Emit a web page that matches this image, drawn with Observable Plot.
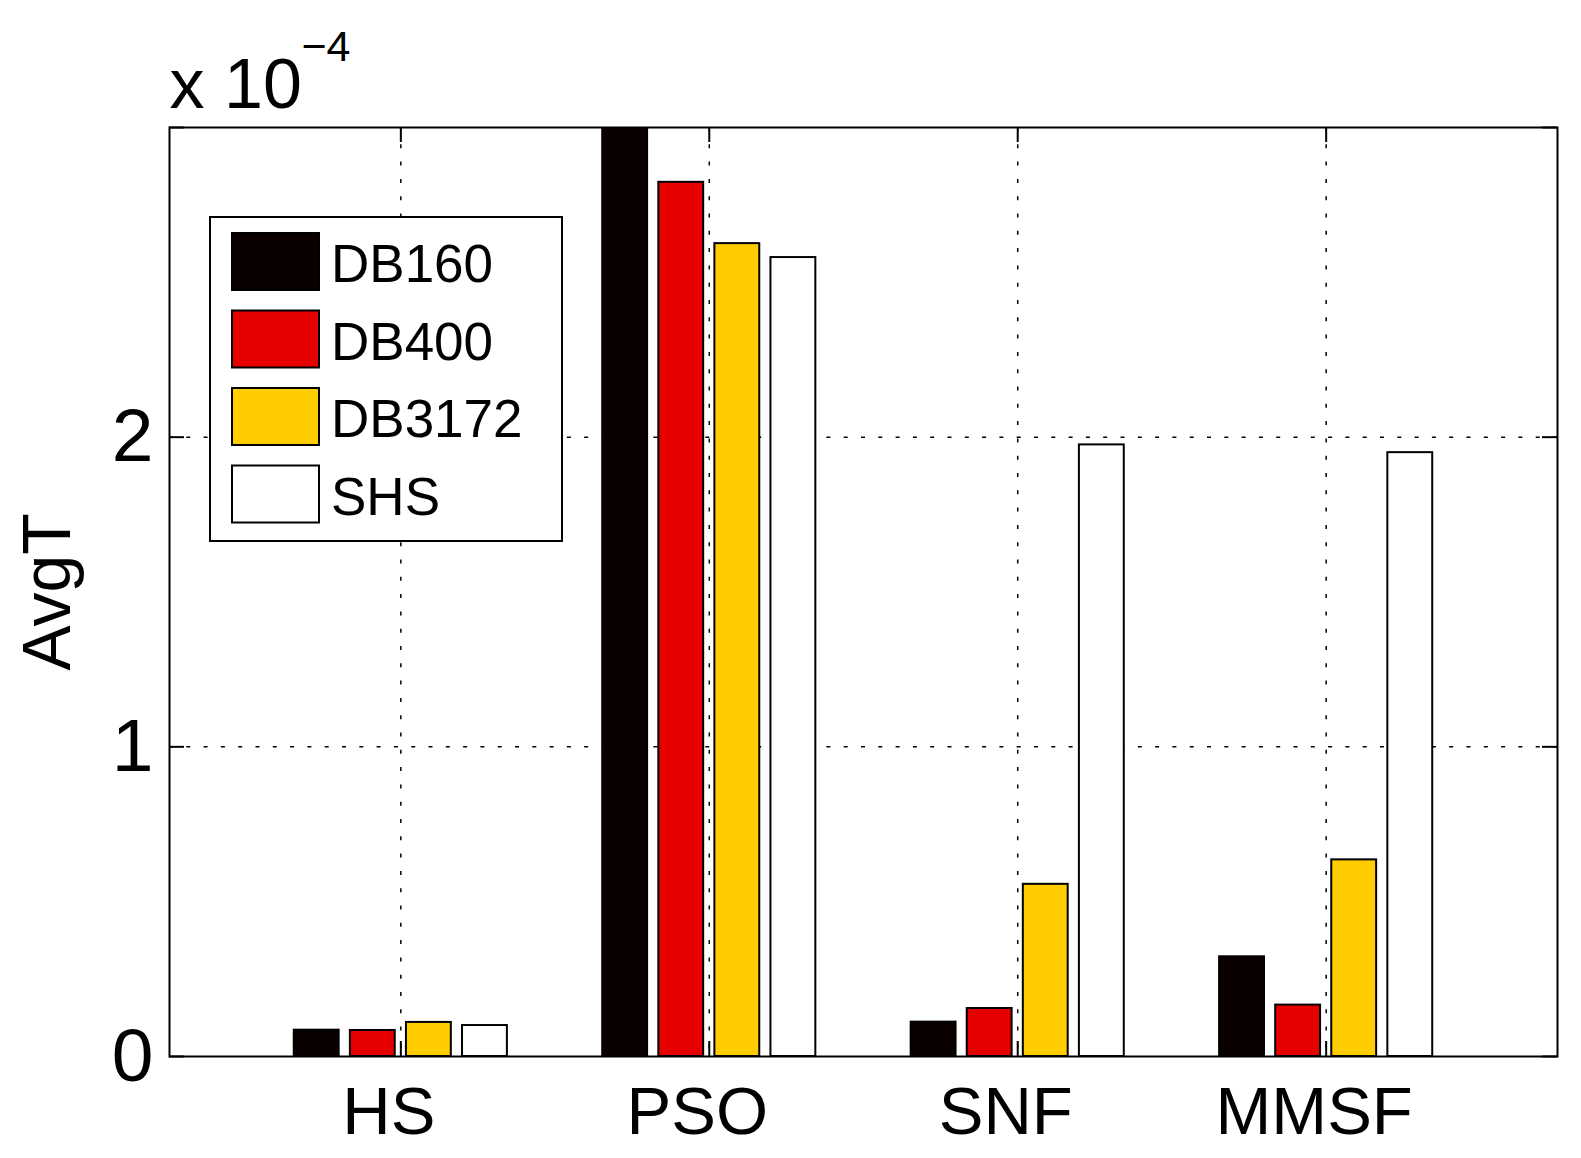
<!DOCTYPE html>
<html><head><meta charset="utf-8">
<script src="https://cdn.jsdelivr.net/npm/d3@7"></script>
<script src="https://cdn.jsdelivr.net/npm/@observablehq/plot@0.6"></script>
<style>
html,body{margin:0;padding:0;background:#fff;}
#chart{width:1581px;height:1158px;}
</style></head><body><div id="chart"></div>
<script>
// ---- data (values in units of 1e-4) ----
const categories = ["HS", "PSO", "SNF", "MMSF"];
const series = ["DB160", "DB400", "DB3172", "SHS"];
const DB160  = [0.085, 3.00, 0.111, 0.322];
const DB400  = [0.084, 2.823, 0.155, 0.166];
const DB3172 = [0.110, 2.625, 0.556, 0.635];
const SHS    = [0.100, 2.580, 1.975, 1.950];
const yTickLabels = [0, 1, 2];
const yTickMarks = [0, 1, 2, 3];
const colors = ["#0b0000", "#e60000", "#ffcc00", "#ffffff"];
const yLabel = "AvgT";
const multiplierBase = "x 10";
const multiplierExp = "\u22124";

const valuesBySeries = [DB160, DB400, DB3172, SHS];
const rows = series.flatMap((s, si) => categories.map((c, ci) => ({category: c, ci, series: s, si, value: valuesBySeries[si][ci]})));
const catPos = categories.map((c, i) => i + 1);

const W = 1581, H = 1158, mt = 127, mr = 24, mb = 102, ml = 169;
const fw = W - ml - mr, fh = H - mt - mb;
const groupStep = 0.1818, barW = 0.1455, tickLen = 15;
const font = "'Liberation Sans', Arial, Helvetica, sans-serif";
const gridStyle = {stroke: "black", strokeWidth: 1.5, strokeDasharray: "4,13.3"};

const plot = Plot.plot({
  width: W, height: H,
  marginTop: mt, marginRight: mr, marginBottom: mb, marginLeft: ml,
  style: {fontFamily: font, background: "white", color: "black", overflow: "visible"},
  x: {domain: [0.25, 4.75], axis: null},
  y: {domain: [0, 3], axis: null},
  color: {domain: series, range: colors},
  marks: [
    Plot.ruleY(yTickLabels.filter(d => d > 0), {y: d => d, ...gridStyle}),
    Plot.ruleX(catPos, {x: d => d, ...gridStyle}),
    Plot.rect(rows, {
      x1: d => d.ci + 1 + (d.si - 1.5) * groupStep - barW / 2,
      x2: d => d.ci + 1 + (d.si - 1.5) * groupStep + barW / 2,
      y1: 0, y2: "value", fill: "series",
      stroke: "black", strokeWidth: 2, clip: true
    }),
    Plot.tickX(catPos, {x: d => d, insetTop: fh - tickLen, stroke: "black", strokeWidth: 2}),
    Plot.tickX(catPos, {x: d => d, insetBottom: fh - tickLen, stroke: "black", strokeWidth: 2}),
    Plot.tickY(yTickMarks, {y: d => d, insetRight: fw - tickLen, stroke: "black", strokeWidth: 2}),
    Plot.tickY(yTickMarks, {y: d => d, insetLeft: fw - tickLen, stroke: "black", strokeWidth: 2}),
    Plot.frame({stroke: "black", strokeWidth: 2}),
    Plot.text(categories, {x: (d, i) => i + 1, text: d => d, frameAnchor: "bottom", lineAnchor: "top", dx: -12, dy: 30, fontSize: 67, fill: "black"}),
    Plot.text(yTickLabels, {y: d => d, text: d => String(d), frameAnchor: "left", textAnchor: "end", lineAnchor: "middle", dx: -16, fontSize: 75, fill: "black"}),
    Plot.text([yLabel], {text: d => d, frameAnchor: "left", dx: -121, rotate: -90, textAnchor: "middle", lineAnchor: "middle", fontSize: 68, fill: "black"}),
    Plot.text([multiplierBase], {text: d => d, frameAnchor: "top-left", textAnchor: "start", lineAnchor: "top", dx: 0, dy: -69, fontSize: 70, fill: "black"}),
    Plot.text([multiplierExp], {text: d => d, frameAnchor: "top-left", textAnchor: "start", lineAnchor: "top", dx: 132, dy: -97, fontSize: 43, fill: "black"})
  ]
});

// ---- legend (MATLAB-style box inside the axes) ----
const svg = d3.select(plot);
const lg = svg.append("g").attr("font-family", font).attr("text-anchor", "start");
const box = {x: 210, y: 217, w: 352, h: 324};
lg.append("rect").attr("x", box.x).attr("y", box.y).attr("width", box.w).attr("height", box.h)
  .attr("fill", "white").attr("stroke", "black").attr("stroke-width", 2);
const entryStep = 77.5;
series.forEach((s, i) => {
  const y0 = 233 + i * entryStep;
  lg.append("rect").attr("x", 232).attr("y", y0).attr("width", 87).attr("height", 57)
    .attr("fill", colors[i]).attr("stroke", "black").attr("stroke-width", 2);
  lg.append("text").attr("x", 331).attr("y", y0 + 49).attr("font-size", 53)
    .attr("text-anchor", "start").attr("fill", "black").text(s);
});

document.getElementById("chart").appendChild(plot);
</script>
</body></html>
